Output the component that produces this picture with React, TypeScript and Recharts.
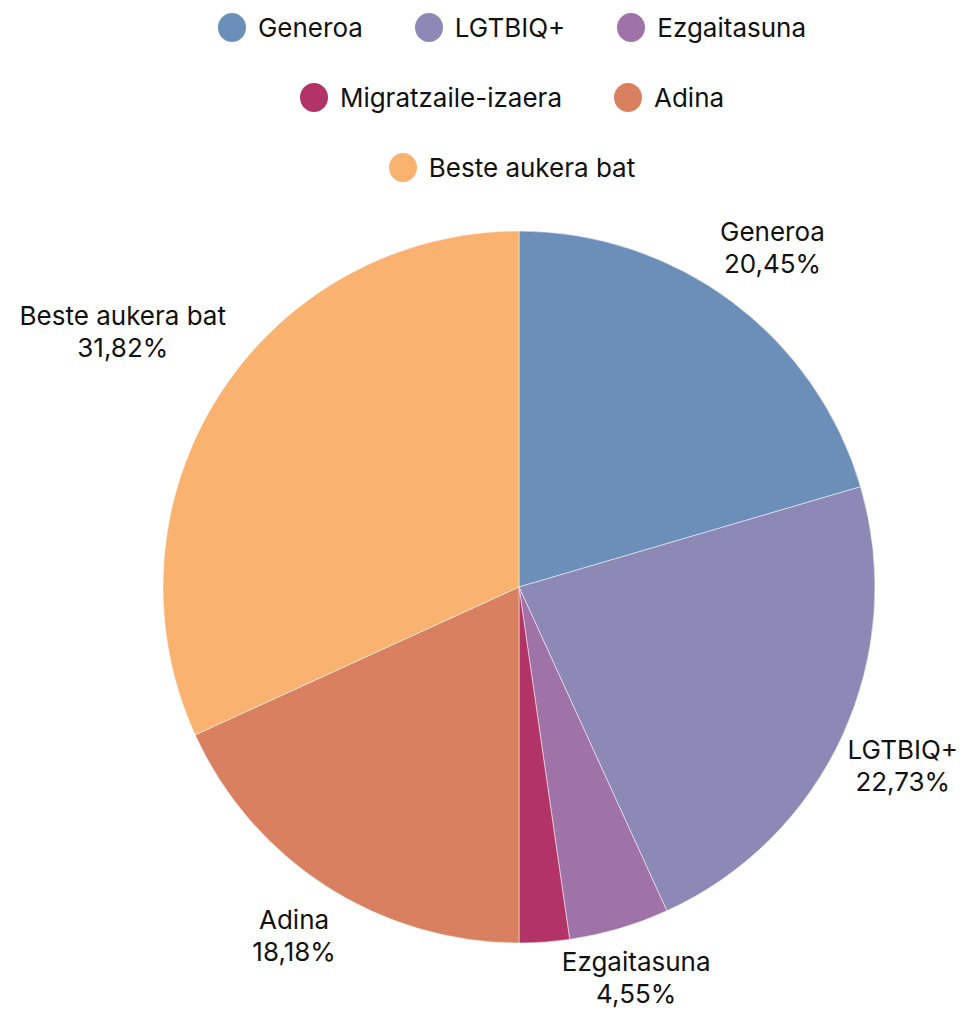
import React from 'react';
import { PieChart, Pie, Cell } from 'recharts';

const CATEGORIES = ['Generoa', 'LGTBIQ+', 'Ezgaitasuna', 'Migratzaile-izaera', 'Adina', 'Beste aukera bat'];
const VALUES = [9, 10, 2, 1, 8, 14];
const COLORS = ['#6c8fb9', '#8c89b7', '#9f73a8', '#b23466', '#d98060', '#f9b270'];

const FONT = 'Inter, "Noto Sans", sans-serif';
const FONT_SIZE = 26;
const CHART_W = 969;
const CHART_H = 1018;
// visible area the labels must stay inside
const SAFE_RIGHT = 958;
const SAFE_BOTTOM = 1006;
const TOTAL = VALUES.reduce((a, b) => a + b, 0);

const DATA = CATEGORIES.map((name, i) => ({ name, value: VALUES[i], color: COLORS[i] }));

let ctx: CanvasRenderingContext2D | null = null;
const measure = (text: string) => {
  if (!ctx) ctx = document.createElement('canvas').getContext('2d');
  if (!ctx) return text.length * FONT_SIZE * 0.55;
  ctx.font = `${FONT_SIZE}px ${FONT}`;
  return ctx.measureText(text).width;
};

const fmt = (v: number) => ((v / TOTAL) * 100).toFixed(2).replace('.', ',') + '%';

// label sits on the slice's mid-angle ray, pushed outward until its box clears the pie
const renderLabel = (props: any) => {
  const { cx, cy, midAngle, outerRadius, name, value } = props;
  if (value / TOTAL < 0.03) return null;
  const RAD = Math.PI / 180;
  const cos = Math.cos(-midAngle * RAD);
  const sin = Math.sin(-midAngle * RAD);
  const pct = fmt(value);
  const w = Math.max(measure(name), measure(pct));
  const hh = 26;
  let r = outerRadius + 60;
  let x = cx + r * cos;
  let y = cy + r * sin;
  for (let k = 0; k < 200; k++) {
    x = cx + r * cos;
    y = cy + r * sin;
    const nx = Math.min(Math.max(cx, x - w / 2), x + w / 2);
    const ny = Math.min(Math.max(cy, y - hh), y + hh);
    if (Math.hypot(nx - cx, ny - cy) >= outerRadius + 15) break;
    r += 1;
  }
  x = Math.min(Math.max(x, w / 2 + 2), SAFE_RIGHT - w / 2);
  y = Math.min(y, SAFE_BOTTOM - 28);
  return (
    <text x={x} y={y} textAnchor="middle" fill="#111" fontSize={FONT_SIZE} fontFamily={FONT}>
      <tspan x={x} y={y - 17} dominantBaseline="central">{name}</tspan>
      <tspan x={x} y={y + 15} dominantBaseline="central">{pct}</tspan>
    </text>
  );
};

export default function App() {
  return (
    <div
      style={{ position: 'relative', width: CHART_W, height: CHART_H, margin: -8, overflow: 'hidden', fontFamily: FONT }}
    >
      <div
        style={{
          position: 'absolute',
          top: -8,
          left: 192,
          width: 640,
          display: 'flex',
          flexWrap: 'wrap',
          justifyContent: 'center',
          columnGap: 52,
          zIndex: 1,
        }}
      >
        {DATA.map((d) => (
          <div key={d.name} style={{ display: 'flex', alignItems: 'center', height: 70 }}>
            <div
              style={{ width: 28, height: 29, borderRadius: '50%', backgroundColor: d.color, marginRight: 12 }}
            />
            <span style={{ fontSize: FONT_SIZE, color: '#111', whiteSpace: 'nowrap' }}>{d.name}</span>
          </div>
        ))}
      </div>
      <PieChart width={CHART_W} height={CHART_H} margin={{ top: 0, right: 0, bottom: 0, left: 0 }}>
        <Pie
          data={DATA}
          dataKey="value"
          nameKey="name"
          cx={519}
          cy={587}
          outerRadius={356}
          startAngle={90}
          endAngle={-270}
          stroke="#ffffff"
          strokeWidth={0.5}
          label={renderLabel}
          labelLine={false}
          isAnimationActive={false}
        >
          {DATA.map((d, i) => (
            <Cell key={`cell-${i}`} fill={d.color} />
          ))}
        </Pie>
      </PieChart>
    </div>
  );
}
